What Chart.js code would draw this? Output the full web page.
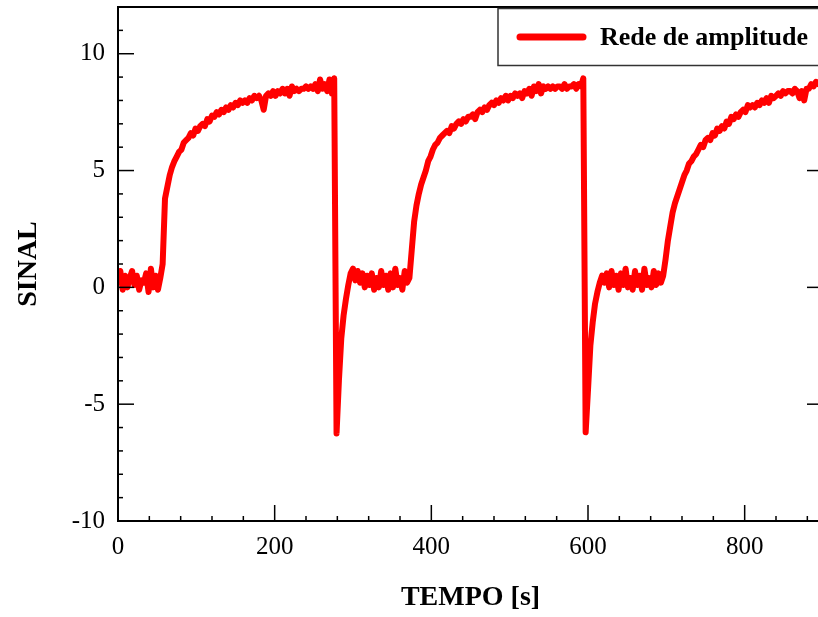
<!DOCTYPE html>
<html>
<head>
<meta charset="utf-8">
<title>Rede de amplitude</title>
<script src="https://cdn.jsdelivr.net/npm/chart.js@4.4.1/dist/chart.umd.min.js"></script>
<style>
  html, body { margin: 0; padding: 0; background: #fff; overflow: hidden; }
  #box { position: relative; width: 840px; height: 617px; }
</style>
</head>
<body>
<div id="box"><canvas id="grafico"></canvas></div>
<script>
// tempo [s] e sinal
const tempo = [
  0, 3, 6, 9, 12, 15, 18, 21, 24, 27,
  30, 33, 36, 39, 42, 45, 48, 51, 54, 57,
  60, 63, 66, 69, 72, 75, 78, 81, 84, 87,
  90, 93, 96, 99, 102, 105, 108, 111, 114, 117,
  120, 123, 126, 129, 132, 135, 138, 141, 144, 147,
  150, 153, 156, 159, 162, 165, 168, 171, 174, 177,
  180, 183, 186, 189, 192, 195, 198, 201, 204, 207,
  210, 213, 216, 219, 222, 225, 228, 231, 234, 237,
  240, 243, 246, 249, 252, 255, 258, 261, 264, 267,
  270, 273, 276, 279, 282, 285, 288, 291, 294, 297,
  300, 303, 306, 309, 312, 315, 318, 321, 324, 327,
  330, 333, 336, 339, 342, 345, 348, 351, 354, 357,
  360, 363, 366, 369, 372, 375, 378, 381, 384, 387,
  390, 393, 396, 399, 402, 405, 408, 411, 414, 417,
  420, 423, 426, 429, 432, 435, 438, 441, 444, 447,
  450, 453, 456, 459, 462, 465, 468, 471, 474, 477,
  480, 483, 486, 489, 492, 495, 498, 501, 504, 507,
  510, 513, 516, 519, 522, 525, 528, 531, 534, 537,
  540, 543, 546, 549, 552, 555, 558, 561, 564, 567,
  570, 573, 576, 579, 582, 585, 588, 591, 594, 597,
  600, 603, 606, 609, 612, 615, 618, 621, 624, 627,
  630, 633, 636, 639, 642, 645, 648, 651, 654, 657,
  660, 663, 666, 669, 672, 675, 678, 681, 684, 687,
  690, 693, 696, 699, 702, 705, 708, 711, 714, 717,
  720, 723, 726, 729, 732, 735, 738, 741, 744, 747,
  750, 753, 756, 759, 762, 765, 768, 771, 774, 777,
  780, 783, 786, 789, 792, 795, 798, 801, 804, 807,
  810, 813, 816, 819, 822, 825, 828, 831, 834, 837,
  840, 843, 846, 849, 852, 855, 858, 861, 864, 867,
  870, 873, 876, 879, 882, 885, 888, 891, 894, 897,
  900
];

const sinal = [
  0.3, 0.7, -0.1, 0.5, 0.0, 0.4, 0.7, 0.1, 0.5, -0.1,
  0.3, 0.2, 0.6, -0.2, 0.8, 0.0, 0.5, -0.1, 0.4, 1.0,
  3.8, 4.3, 4.8, 5.15, 5.4, 5.6, 5.8, 5.9, 6.2, 6.3,
  6.4, 6.6, 6.5, 6.8, 6.7, 6.9, 7.0, 6.9, 7.2, 7.1,
  7.35, 7.3, 7.5, 7.4, 7.6, 7.5, 7.7, 7.6, 7.8, 7.7,
  7.9, 7.8, 8.0, 7.9, 8.0, 7.9, 8.1, 8.0, 8.2, 8.1,
  8.2, 8.0, 7.6, 8.2, 8.3, 8.2, 8.4, 8.2, 8.4, 8.3,
  8.5, 8.3, 8.5, 8.2, 8.6, 8.4, 8.5, 8.4, 8.5, 8.5,
  8.6, 8.5, 8.6, 8.5, 8.7, 8.4, 8.9, 8.5, 8.7, 8.4,
  8.9, 8.3, 8.95, -6.25, -4.0, -2.2, -1.2, -0.5, 0.1, 0.6,
  0.8, 0.3, 0.7, 0.2, 0.6, 0.0, 0.5, 0.1, 0.6, -0.1,
  0.4, 0.0, 0.7, 0.1, 0.5, -0.1, 0.6, 0.0, 0.8, 0.1,
  0.4, -0.1, 0.7, 0.2, 0.4, 1.6, 2.8, 3.5, 4.0, 4.4,
  4.7, 5.0, 5.4, 5.6, 5.9, 6.1, 6.2, 6.4, 6.5, 6.6,
  6.7, 6.6, 6.9, 6.8, 7.0, 7.1, 7.0, 7.2, 7.1, 7.3,
  7.3, 7.4, 7.2, 7.5, 7.6, 7.5, 7.7, 7.6, 7.8, 7.9,
  7.8, 8.0, 7.9, 8.1, 8.0, 8.2, 8.0, 8.2, 8.1, 8.3,
  8.2, 8.3, 8.1, 8.4, 8.3, 8.5, 8.2, 8.6, 8.4, 8.7,
  8.3, 8.6, 8.5, 8.6, 8.5, 8.6, 8.5, 8.6, 8.6, 8.5,
  8.7, 8.5, 8.6, 8.6, 8.7, 8.5, 8.7, 8.6, 8.95, -6.2,
  -4.4, -2.5, -1.5, -0.7, -0.2, 0.2, 0.5, 0.2, 0.6, 0.0,
  0.7, 0.1, 0.5, -0.1, 0.6, 0.1, 0.8, 0.0, 0.4, -0.1,
  0.7, 0.1, 0.5, -0.1, 0.8, 0.1, 0.4, 0.0, 0.7, 0.1,
  0.6, 0.2, 0.5, 1.2, 2.0, 2.6, 3.2, 3.6, 3.9, 4.2,
  4.5, 4.8, 5.0, 5.3, 5.4, 5.6, 5.7, 5.9, 6.1, 6.0,
  6.3, 6.4, 6.3, 6.6, 6.5, 6.8, 6.7, 6.9, 6.8, 7.1,
  7.0, 7.3, 7.2, 7.4, 7.3, 7.5, 7.6, 7.5, 7.8, 7.7,
  7.8, 7.7, 7.9, 7.8, 8.0, 7.9, 8.1, 7.9, 8.2, 8.1,
  8.2, 8.3, 8.2, 8.4, 8.3, 8.4, 8.4, 8.3, 8.5, 8.4,
  8.1, 8.4, 8.0, 8.5, 8.5, 8.7, 8.6, 8.8, 8.7, 8.8,
  8.7
];

// eixos
const xMin = 0, xMax = 900, xPasso = 200, xMenor = 40;
const yMin = -10, yMax = 12, yPasso = 5, yMenor = 1;

const fonte = "'Liberation Serif', 'Times New Roman', serif";
const nomeSerie = 'Rede de amplitude';

const moldura = {
  id: 'moldura',
  afterDatasetsDraw(chart) {
    const { ctx, chartArea: a, scales: { x, y } } = chart;
    const seg = (x1, y1, x2, y2) => {
      ctx.beginPath(); ctx.moveTo(x1, y1); ctx.lineTo(x2, y2); ctx.stroke();
    };
    ctx.save();
    ctx.strokeStyle = '#000';
    ctx.lineWidth = 1.5;
    for (let v = yMin; v <= yMax; v += yMenor) {
      const py = y.getPixelForValue(v);
      const len = v % yPasso === 0 ? 16 : 5;
      seg(a.left, py, a.left + len, py);
      seg(a.right, py, a.right - len, py);
    }
    for (let v = xMin; v <= xMax; v += xMenor) {
      const px = x.getPixelForValue(v);
      const len = v % xPasso === 0 ? 16 : 5;
      seg(px, a.bottom, px, a.bottom - len);
    }
    ctx.lineWidth = 2;
    ctx.strokeRect(a.left, a.top, a.right - a.left, a.bottom - a.top);

    // legenda com moldura
    const L = { x: 498, y: 8.5, w: 400, h: 57 };
    ctx.fillStyle = '#fff';
    ctx.fillRect(L.x, L.y, L.w, L.h);
    ctx.strokeStyle = '#333';
    ctx.lineWidth = 1.5;
    ctx.strokeRect(L.x, L.y, L.w, L.h);
    ctx.strokeStyle = '#ff0000';
    ctx.lineWidth = 7;
    ctx.lineCap = 'round';
    seg(520, 37, 583, 37);
    ctx.fillStyle = '#000';
    ctx.font = 'bold 26px ' + fonte;
    ctx.textAlign = 'left';
    ctx.textBaseline = 'alphabetic';
    ctx.fillText(nomeSerie, 600, 45);
    ctx.restore();
  }
};

new Chart(document.getElementById('grafico'), {
  type: 'line',
  data: {
    labels: tempo,
    datasets: [{
      label: nomeSerie,
      data: sinal,
      borderColor: '#ff0000',
      borderWidth: 6,
      borderJoinStyle: 'round',
      borderCapStyle: 'round',
      pointRadius: 0,
      tension: 0,
      fill: false
    }]
  },
  options: {
    responsive: true,
    maintainAspectRatio: false,
    animation: false,
    layout: { padding: { top: 7, right: 17, left: 0, bottom: 0 } },
    plugins: {
      legend: { display: false },
      tooltip: { enabled: false }
    },
    scales: {
      x: {
        type: 'linear',
        min: xMin,
        max: xMax,
        afterFit: (s) => { s.height = 96; s.paddingLeft = 0; s.paddingRight = 0; },
        grid: { display: false, drawTicks: false },
        border: { display: false },
        ticks: {
          stepSize: xPasso,
          includeBounds: false,
          color: '#000',
          padding: 11,
          maxRotation: 0,
          font: { family: fonte, size: 25 }
        },
        title: {
          display: true,
          text: 'TEMPO [s]',
          color: '#000',
          padding: { bottom: 2 },
          font: { family: fonte, size: 28, weight: 'bold' }
        }
      },
      y: {
        min: yMin,
        max: yMax,
        afterFit: (s) => { s.width = 118; s.paddingTop = 0; s.paddingBottom = 0; },
        grid: { display: false, drawTicks: false },
        border: { display: false },
        ticks: {
          stepSize: yPasso,
          includeBounds: false,
          color: '#000',
          padding: 13,
          font: { family: fonte, size: 25 }
        },
        title: {
          display: true,
          text: 'SINAL',
          color: '#000',
          padding: { top: 12 },
          font: { family: fonte, size: 28, weight: 'bold' }
        }
      }
    }
  },
  plugins: [moldura]
});
</script>
</body>
</html>
